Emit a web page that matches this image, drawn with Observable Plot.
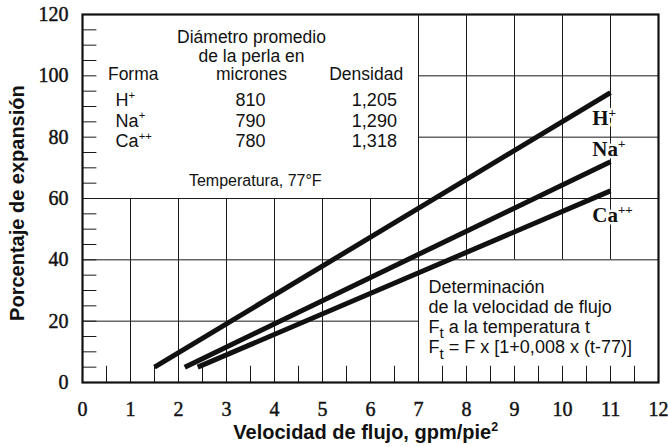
<!DOCTYPE html>
<html>
<head>
<meta charset="utf-8">
<script src="https://cdn.jsdelivr.net/npm/d3@7"></script>
<script src="https://cdn.jsdelivr.net/npm/@observablehq/plot@0.6"></script>
<style>
  html, body { margin: 0; padding: 0; background: #fff; }
  #chart svg { display: block; }
</style>
</head>
<body>
<div id="chart"></div>
<script>
// ---- Data ----
const xTickValues = [0, 1, 2, 3, 4, 5, 6, 7, 8, 9, 10, 11, 12];
const yTickValues = [0, 20, 40, 60, 80, 100, 120];
const vGridX = [1, 2, 3, 4, 5, 6, 7, 8, 9, 10, 11];
const hGridY = [20, 40, 60, 80, 100];

const lineForms = ["H^{+}", "Na^{+}", "Ca^{++}"];
const lineStartX = [1.5, 2.13, 2.4];
const lineStartY = [5, 5, 5];
const lineEndX = [11, 11, 11];
const lineEndY = [94.5, 72, 62.5];

const tableForms = ["H^{+}", "Na^{+}", "Ca^{++}"];
const tableDiameters = ["810", "790", "780"];
const tableDensities = ["1,205", "1,290", "1,318"];

// ---- Layout helpers ----
const upperBox = {x1: 0, x2: 7, y1: 60, y2: 120};
const lowerBox = {x1: 7, x2: 12, y1: 0, y2: 40};
const xMinor = d3.range(0.5, 12, 0.5);
const yMinor = d3.range(5, 120, 5);
const idx = d3.range(lineForms.length);
const rowY = [92.0, 85.3, 78.6];

const SANS = "'Liberation Sans', Arial, Helvetica, sans-serif";
const SERIF = "'Liberation Serif', 'Times New Roman', serif";

const plot = Plot.plot({
  width: 668,
  height: 447,
  marginLeft: 82,
  marginRight: 10,
  marginTop: 14,
  marginBottom: 65,
  x: {domain: [0, 12], axis: null},
  y: {domain: [0, 120], axis: null},
  style: {background: "#fff", color: "#000"},
  marks: [
    // grid
    Plot.ruleX(vGridX, {
      x: d => d,
      y1: d => (d > lowerBox.x1 ? lowerBox.y2 : 0),
      y2: d => (d < upperBox.x2 ? upperBox.y1 : 120),
      stroke: "#1a1a1a", strokeWidth: 1
    }),
    Plot.ruleY(hGridY, {
      y: d => d,
      x1: d => (d > upperBox.y1 ? upperBox.x2 : 0),
      x2: d => (d < lowerBox.y2 ? lowerBox.x1 : 12),
      stroke: "#1a1a1a", strokeWidth: 1
    }),
    // minor ticks
    Plot.ruleX(xMinor, {x: d => d, y1: 0, y2: 5.3, stroke: "#1a1a1a", strokeWidth: 1}),
    Plot.ruleY(yMinor, {y: d => d, x1: 0, x2: 0.3, stroke: "#1a1a1a", strokeWidth: 1}),
    // series lines
    Plot.link(idx, {
      x1: i => lineStartX[i], y1: i => lineStartY[i],
      x2: i => lineEndX[i], y2: i => lineEndY[i],
      stroke: "#111", strokeWidth: 5, strokeLinecap: "butt"
    }),
    Plot.frame({stroke: "#111", strokeWidth: 2.2}),
    // line labels
    Plot.text(idx, {
      x: () => 10.62,
      y: i => [86.1, 76.0, 54.5][i],
      text: i => lineForms[i],
      textAnchor: "start",
      fontFamily: SERIF, fontWeight: "bold", fontSize: 21,
      fill: "#111", stroke: "white", strokeWidth: 5
    }),
    // tick labels
    Plot.text(xTickValues, {
      x: d => d, y: () => 0, dy: 27, text: d => String(d),
      fontFamily: SERIF, fontSize: 20, fill: "#111", stroke: "#111", strokeWidth: 0.45
    }),
    Plot.text(yTickValues, {
      x: () => 0, y: d => d, dx: -14, text: d => String(d), textAnchor: "end",
      fontFamily: SERIF, fontSize: 20, fill: "#111", stroke: "#111", strokeWidth: 0.45
    }),
    // axis titles
    Plot.text(["Velocidad de flujo, gpm/pie^{2}"], {
      x: () => 5.9, y: () => -16.4, text: d => d,
      fontFamily: SANS, fontWeight: "bold", fontSize: 20, fill: "#111"
    }),
    Plot.text(["Porcentaje de expansión"], {
      x: () => -1.35, y: () => 58.5, text: d => d, rotate: -90,
      fontFamily: SANS, fontWeight: "bold", fontSize: 20, fill: "#111"
    }),
    // upper-left table
    Plot.text(["Diámetro promedio", "de la perla en", "micrones"], {
      x: () => 3.52, y: (d, i) => [112.4, 106.5, 100.5][i], text: d => d,
      fontFamily: SANS, fontSize: 17.5, fill: "#111"
    }),
    Plot.text(["Forma"], {
      x: () => 0.53, y: () => 100.5, text: d => d, textAnchor: "start",
      fontFamily: SANS, fontSize: 17.5, fill: "#111"
    }),
    Plot.text(["Densidad"], {
      x: () => 5.14, y: () => 100.5, text: d => d, textAnchor: "start",
      fontFamily: SANS, fontSize: 17.5, fill: "#111"
    }),
    Plot.text(idx, {
      x: () => 0.69, y: i => rowY[i], text: i => tableForms[i], textAnchor: "start",
      fontFamily: SANS, fontSize: 18, fill: "#111"
    }),
    Plot.text(idx, {
      x: () => 3.5, y: i => rowY[i], text: i => tableDiameters[i],
      fontFamily: SANS, fontSize: 18, fill: "#111"
    }),
    Plot.text(idx, {
      x: () => 6.55, y: i => rowY[i], text: i => tableDensities[i], textAnchor: "end",
      fontFamily: SANS, fontSize: 18, fill: "#111"
    }),
    Plot.text(["Temperatura, 77°F"], {
      x: () => 3.6, y: () => 65.9, text: d => d,
      fontFamily: SANS, fontSize: 16, fill: "#111"
    }),
    // lower-right note
    Plot.text(["Determinación", "de la velocidad de flujo", "F_{t} a la temperatura t", "F_{t} = F x [1+0,008 x (t-77)]"], {
      x: () => 7.21, y: (d, i) => [31.0, 24.5, 18.0, 11.4][i], text: d => d, textAnchor: "start",
      fontFamily: SANS, fontSize: 18, fill: "#111"
    })
  ]
});

document.getElementById("chart").appendChild(plot);

// rich text: ^{...} superscripts and _{...} subscripts
const NS = "http://www.w3.org/2000/svg";
plot.querySelectorAll("text").forEach(t => {
  const s = t.textContent;
  if (!/[\^_]\{/.test(s)) return;
  const holder = t.closest("[font-size]");
  const fs = parseFloat(t.getAttribute("font-size") || (holder && holder.getAttribute("font-size")) || 16);
  t.textContent = "";
  let cur = 0, last = 0, m;
  const re = /([\^_])\{([^}]*)\}/g;
  const add = (str, target, size) => {
    const ts = document.createElementNS(NS, "tspan");
    ts.textContent = str;
    const dy = target - cur;
    if (dy) ts.setAttribute("dy", dy.toFixed(2));
    if (size) ts.setAttribute("font-size", size);
    cur = target;
    t.appendChild(ts);
  };
  while ((m = re.exec(s))) {
    if (m.index > last) add(s.slice(last, m.index), 0);
    if (m[1] === "^") add(m[2], -0.4 * fs, (0.62 * fs).toFixed(1));
    else add(m[2], 0.3 * fs, (0.85 * fs).toFixed(1));
    last = re.lastIndex;
  }
  if (last < s.length) add(s.slice(last), 0);
});
</script>
</body>
</html>
